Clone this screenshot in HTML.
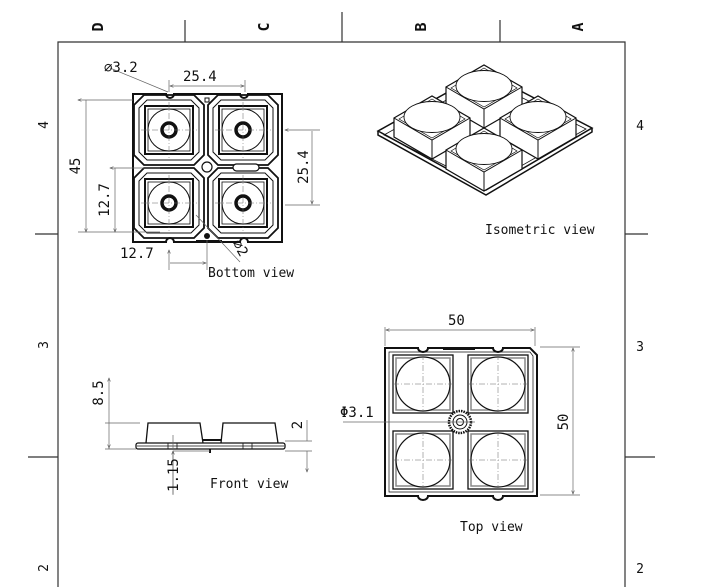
<!DOCTYPE html>
<html><head><meta charset="utf-8"><style>
html,body{margin:0;padding:0;background:#fff;}
svg{display:block;}
text{font-family:"DejaVu Sans Mono","Liberation Mono",monospace;fill:#111;}
</style></head><body>
<svg width="712" height="587" viewBox="0 0 712 587" xmlns="http://www.w3.org/2000/svg">
<defs>
<marker id="a" markerWidth="6" markerHeight="6" refX="5" refY="3" orient="auto-start-reverse"><path d="M0,1 L5,3 L0,5" fill="none" stroke="#555" stroke-width="0.8"/></marker>
<g id="bcell">
<path d="M-35,-25 L-25,-35 L25,-35 L35,-25 L35,25 L25,35 L-25,35 L-35,25 Z" fill="none" stroke="#111" stroke-width="1.8"/>
<path d="M-30,-22 L-22,-30 L22,-30 L30,-22 L30,22 L22,30 L-22,30 L-30,22 Z" fill="none" stroke="#111" stroke-width="1"/>
<rect x="-24" y="-24" width="48" height="48" fill="none" stroke="#111" stroke-width="2"/>
<rect x="-21" y="-21" width="42" height="42" fill="none" stroke="#111" stroke-width="0.8"/>
<circle r="21" fill="none" stroke="#111" stroke-width="1"/>
<circle r="7" fill="none" stroke="#111" stroke-width="3.5"/>
<path d="M-28,0 H28 M0,-28 V28" stroke="#666" stroke-width="0.5" stroke-dasharray="6,2,1,2"/>
</g>
<g id="tcell">
<rect x="-30" y="-29" width="60" height="58" fill="none" stroke="#111" stroke-width="1.3"/>
<rect x="-27" y="-26" width="54" height="52" fill="none" stroke="#888" stroke-width="1.5"/>
<circle r="27" fill="#fff" stroke="#111" stroke-width="1.2"/>
<path d="M-30,0 H30 M0,-30 V30" stroke="#666" stroke-width="0.5" stroke-dasharray="6,2,1,2"/>
</g>
<g id="box">
<path d="M-38,0 L0,-22 L38,0 L38,19 L0,41 L-38,19 Z" fill="#fff" stroke="#111" stroke-width="1.2"/>
<path d="M-38,0 L0,22 L38,0 M0,22 V41" fill="none" stroke="#111" stroke-width="1"/>
<path d="M-33,1 L0,-19 L33,1 L0,20 Z" fill="none" stroke="#111" stroke-width="0.7"/>
<ellipse cx="0" cy="-1" rx="28" ry="15.5" fill="#fff" stroke="#111" stroke-width="0.9"/>
</g>
</defs>

<!-- frame -->
<g stroke="#333" stroke-width="1.2" fill="none">
<path d="M58,587 V42 H625 V587"/>
<path d="M185,20 V42 M342,12 V42 M500,20 V42"/>
<path d="M35,234 H58 M28,457 H58 M625,234 H648 M625,457 H655"/>
</g>
<g font-size="15" font-family="Liberation Sans" font-weight="bold">
<text transform="translate(103,27) rotate(-90)" text-anchor="middle" font-family="Liberation Sans">D</text>
<text transform="translate(269,27) rotate(-90)" text-anchor="middle" font-family="Liberation Sans">C</text>
<text transform="translate(426,27) rotate(-90)" text-anchor="middle" font-family="Liberation Sans">B</text>
<text transform="translate(583,27) rotate(-90)" text-anchor="middle" font-family="Liberation Sans">A</text>
</g>
<g font-size="13">
<text transform="translate(48,125) rotate(-90)" text-anchor="middle">4</text>
<text transform="translate(48,345) rotate(-90)" text-anchor="middle">3</text>
<text transform="translate(48,568) rotate(-90)" text-anchor="middle">2</text>
<text x="640" y="130" text-anchor="middle" font-family="Liberation Sans">4</text>
<text x="640" y="351" text-anchor="middle" font-family="Liberation Sans">3</text>
<text x="640" y="573" text-anchor="middle" font-family="Liberation Sans">2</text>
</g>

<!-- bottom view -->
<path d="M133,94 H166 a4,4 0 0 0 8,0 H240 a4,4 0 0 0 8,0 H282 V242 H248 a4,4 0 0 0 -8,0 H174 a4,4 0 0 0 -8,0 H133 Z" fill="none" stroke="#111" stroke-width="2"/>
<use href="#bcell" x="169" y="130"/>
<use href="#bcell" x="243" y="130"/>
<use href="#bcell" x="169" y="203"/>
<use href="#bcell" x="243" y="203"/>
<circle cx="207" cy="167" r="5" fill="#fff" stroke="#111" stroke-width="1.2"/>
<rect x="233" y="164" width="26" height="7" rx="3.5" fill="#fff" stroke="#111" stroke-width="1.2"/>
<rect x="205" y="98" width="4" height="4" fill="none" stroke="#111"/>
<circle cx="207" cy="236" r="3" fill="#111"/>
<rect x="196" y="240" width="26" height="3" fill="#111"/>
<g stroke="#666" stroke-width="0.7" fill="none">
<path d="M78,100 H133 M86,100 V232" marker-start="url(#a)" marker-end="url(#a)"/>
<path d="M78,232 H160"/>
<path d="M110,168 H160 M115,168 V232" marker-start="url(#a)" marker-end="url(#a)"/>
<path d="M169,80 V92 M245,80 V92" />
<path d="M170,86 H244" marker-start="url(#a)" marker-end="url(#a)"/>
<path d="M285,130 H320 M285,205 H320 M312,131 V204" marker-start="url(#a)" marker-end="url(#a)"/>
<path d="M169,250 V270 M207,240 V270 M170,263 H206" marker-start="url(#a)" marker-end="url(#a)"/>
<path d="M110,68 L168,92 M196,215 L240,262"/>
</g>
<g font-size="14">
<text x="104" y="72">⌀3.2</text>
<text x="183" y="81">25.4</text>
<text transform="translate(80,166) rotate(-90)" text-anchor="middle">45</text>
<text transform="translate(109,200) rotate(-90)" text-anchor="middle">12.7</text>
<text transform="translate(308,167) rotate(-90)" text-anchor="middle">25.4</text>
<text x="120" y="258">12.7</text>
<text transform="translate(232,243) rotate(60)">⌀2</text>
<text x="208" y="277" font-size="13">Bottom view</text>
</g>

<!-- isometric -->
<path d="M378,131 L484,72 L592,128 L486,190 Z" fill="#fff" stroke="#111" stroke-width="1.5"/>
<path d="M384,135 L484,79 L586,129 L486,186 Z" fill="none" stroke="#111" stroke-width="0.8"/>
<path d="M378,131 V135 L486,195 L592,132 V128" fill="none" stroke="#111" stroke-width="1.5"/>
<use href="#box" x="484" y="87"/>
<use href="#box" x="432" y="118"/>
<use href="#box" x="538" y="118"/>
<use href="#box" x="484" y="150"/>
<text x="485" y="234" font-size="13">Isometric view</text>

<!-- front view -->
<path d="M146,443 L148,423 H200 L203,443 M221,443 L223,423 H275 L278,443" fill="none" stroke="#111" stroke-width="1.3"/>
<path d="M203,440 H221" stroke="#111" stroke-width="2"/>
<rect x="136" y="443" width="149" height="6" rx="2" fill="#fff" stroke="#111" stroke-width="1.3"/>
<path d="M137,446 H284" stroke="#111" stroke-width="0.7"/>
<rect x="168" y="443" width="9" height="6" fill="none" stroke="#111" stroke-width="0.8"/>
<rect x="243" y="443" width="9" height="6" fill="none" stroke="#111" stroke-width="0.8"/>
<path d="M210,449 v4" stroke="#111" stroke-width="2"/>
<g stroke="#666" stroke-width="0.7" fill="none">
<path d="M105,423 H140 M105,449 H136" />
<path d="M109,378 V449 M109,424 V448" marker-start="url(#a)" marker-end="url(#a)"/>
<path d="M285,441 H312 M285,451 H312 M307,420 V441 M307,451 V472" marker-end="url(#a)"/>
<path d="M173,435 V449 M173,451 V495" />
<path d="M173,451 V494" marker-start="url(#a)"/>
<path d="M173,451 H210"/>
</g>
<g font-size="14">
<text transform="translate(103,393) rotate(-90)" text-anchor="middle">8.5</text>
<text transform="translate(302,425) rotate(-90)" text-anchor="middle">2</text>
<text transform="translate(178,475) rotate(-90)" text-anchor="middle">1.15</text>
<text x="210" y="488" font-size="13">Front view</text>
</g>

<!-- top view -->
<path d="M385,348 H418 a5,4 0 0 0 10,0 H493 a5,4 0 0 0 10,0 H530 L537,355 V496 H503 a5,4 0 0 1 -10,0 H428 a5,4 0 0 1 -10,0 H385 Z" fill="none" stroke="#111" stroke-width="2"/>
<path d="M389,352 H530 L533,356 V492 H389 Z" fill="none" stroke="#111" stroke-width="0.7"/>
<rect x="443" y="347" width="32" height="3" fill="#111"/>
<use href="#tcell" x="423" y="384"/>
<use href="#tcell" x="498" y="384"/>
<use href="#tcell" x="423" y="460"/>
<use href="#tcell" x="498" y="460"/>
<circle cx="460" cy="422" r="11" fill="#fff" stroke="#111" stroke-width="2.5" stroke-dasharray="1.5,1"/>
<circle cx="460" cy="422" r="7" fill="none" stroke="#111" stroke-width="1"/>
<circle cx="460" cy="422" r="3.5" fill="none" stroke="#111" stroke-width="1"/>
<g stroke="#666" stroke-width="0.7" fill="none">
<path d="M385,327 V346 M535,327 V346"/>
<path d="M386,330 H534" marker-start="url(#a)" marker-end="url(#a)"/>
<path d="M540,347 H580 M540,495 H580"/>
<path d="M573,348 V494" marker-start="url(#a)" marker-end="url(#a)"/>
<path d="M343,422 H475"/>
</g>
<g font-size="14">
<text x="448" y="325">50</text>
<text transform="translate(568,422) rotate(-90)" text-anchor="middle">50</text>
<text x="340" y="417">Φ3.1</text>
<text x="460" y="531" font-size="13">Top view</text>
</g>
</svg>
</body></html>
